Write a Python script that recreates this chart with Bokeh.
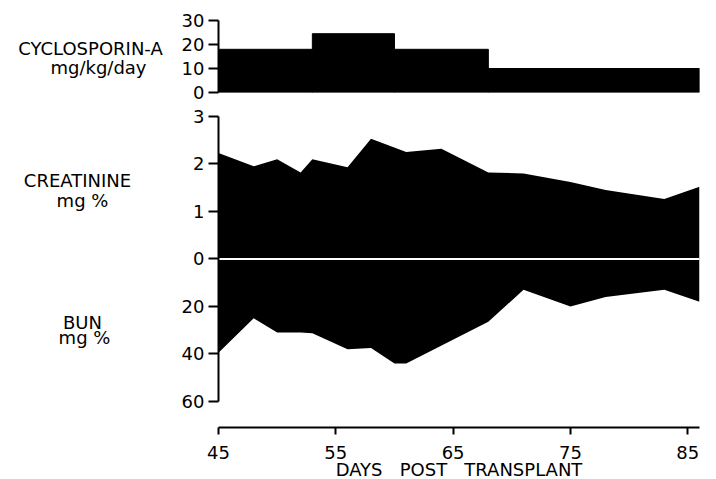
from bokeh.plotting import figure
from bokeh.layouts import column, row
from bokeh.models import Range1d, FixedTicker
from bokeh.core.properties import value
from bokeh.embed import file_html
from bokeh.resources import INLINE

# ---- data ----
cyclo_start = [45, 53, 60, 68]
cyclo_end = [53, 60, 68, 86]
cyclo_dose = [18, 24.5, 18, 10]

creat_day = [45, 48, 50, 52, 53, 56, 58, 61, 64, 68, 71, 75, 78, 83, 86]
creat_val = [2.23, 1.95, 2.1, 1.82, 2.1, 1.93, 2.53, 2.25, 2.32, 1.82, 1.80, 1.62, 1.45, 1.26, 1.52]

bun_day = [45, 48, 50, 52, 53, 56, 58, 60, 61, 68, 71, 75, 78, 83, 86]
bun_val = [39.5, 25, 31, 31, 31.3, 38, 37.5, 44, 44, 26.5, 13, 20, 16, 13, 18]

x_ticks = [45, 55, 65, 75, 85]
cyclo_ticks = [0, 10, 20, 30]
creat_ticks = [0, 1, 2, 3]
bun_ticks = [20, 40, 60]
bun_per_creat = 20  # 1 creatinine unit on the axis == 20 BUN units

side_texts = ["CYCLOSPORIN-A", "mg/kg/day", "CREATININE", "mg %", "BUN", "mg %"]
x_title = "DAYS\u00a0\u00a0 POST\u00a0\u00a0 TRANSPLANT"

FONT = "DejaVu Sans"
LEFT = 36
RIGHT = 12
FRAME_W = 481
TOTAL_H = 477
LABEL_W = 178

x_range = Range1d(45, 86)

# ---- top panel: cyclosporin dose ----
p1 = figure(frame_width=FRAME_W, frame_height=72, x_range=x_range, y_range=Range1d(0, 30),
            output_backend="svg", toolbar_location=None, x_axis_location=None,
            min_border_left=LEFT, min_border_right=RIGHT, min_border_top=20, min_border_bottom=12)
p1.quad(left=cyclo_start, right=cyclo_end, bottom=0, top=cyclo_dose,
        fill_color="black", line_color="black")
p1.yaxis.ticker = FixedTicker(ticks=cyclo_ticks)
p1.yaxis.bounds = (0, 30)

# ---- main panel: creatinine (up) and BUN (down) ----
y_lo, y_hi = -3.55, 3.0
p2 = figure(frame_width=FRAME_W, frame_height=311, x_range=x_range, y_range=Range1d(y_lo, y_hi),
            output_backend="svg", toolbar_location=None,
            min_border_left=LEFT, min_border_right=RIGHT, min_border_top=12, min_border_bottom=10)
p2.extra_y_ranges = {"bun": Range1d(start=-y_lo * bun_per_creat, end=-y_hi * bun_per_creat)}
p2.varea(x=creat_day, y1=0, y2=creat_val, fill_color="black")
p2.varea(x=bun_day, y1=0, y2=bun_val, fill_color="black", y_range_name="bun")
p2.line(x=[min(creat_day), max(creat_day)], y=[0, 0], line_color="white", line_width=2)

ticks = creat_ticks + [-b / bun_per_creat for b in bun_ticks]
p2.yaxis.ticker = FixedTicker(ticks=ticks)
p2.yaxis.major_label_overrides = {-b / bun_per_creat: str(b) for b in bun_ticks}
p2.yaxis.bounds = (-3, 3)

p2.xaxis.ticker = FixedTicker(ticks=x_ticks)
p2.xaxis.axis_label = x_title

for p in (p1, p2):
    p.grid.visible = False
    p.outline_line_color = None
    p.background_fill_color = "white"
    for ax in p.axis:
        ax.axis_line_color = "black"
        ax.axis_line_width = 2
        ax.major_tick_line_color = "black"
        ax.major_tick_line_width = 2
        ax.major_tick_in = 0
        ax.major_tick_out = 10
        ax.minor_tick_line_color = None
        ax.major_label_text_font = FONT
        ax.major_label_text_font_size = "18px"
        ax.major_label_text_color = "black"
        ax.major_label_standoff = 4
        ax.axis_label_text_font = FONT
        ax.axis_label_text_font_style = "normal"
        ax.axis_label_text_font_size = "18px"
        ax.axis_label_text_color = "black"
        ax.axis_label_standoff = -3

p2.xaxis.major_tick_out = 7
p2.xaxis.major_label_standoff = 11

# ---- left column with the panel titles (pixel-like coordinates, y downwards) ----
pl = figure(width=LABEL_W, height=TOTAL_H, x_range=Range1d(0, LABEL_W), y_range=Range1d(TOTAL_H, 0),
            output_backend="svg", toolbar_location=None, x_axis_location=None, y_axis_location=None,
            min_border=0)
pl.grid.visible = False
pl.outline_line_color = None
pl.text(x=[90, 98, 77, 82, 82, 84], y=[48, 67, 180, 200, 322, 337], text=side_texts,
        text_font=value(FONT), text_font_size="18px", text_align="center",
        text_baseline="middle", text_color="black")

layout = row(pl, column(p1, p2))
open("out.html", "w").write(file_html(layout, INLINE))
